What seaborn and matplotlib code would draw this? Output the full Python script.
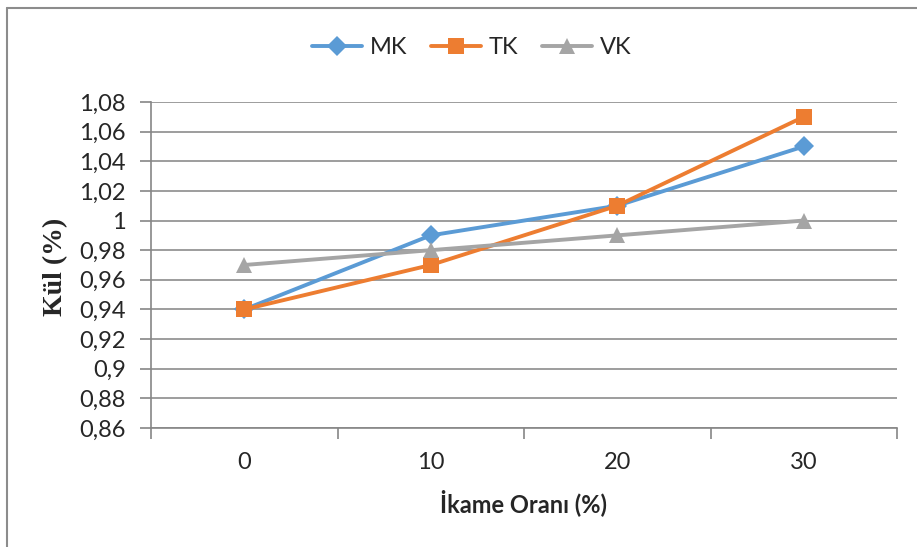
import matplotlib
matplotlib.use("Agg")
import matplotlib.pyplot as plt
from matplotlib.lines import Line2D
import seaborn as sns
import pandas as pd

# Data
oranlar = ["0", "10", "20", "30"]
mk = [0.94, 0.99, 1.01, 1.05]
tk = [0.94, 0.97, 1.01, 1.07]
vk = [0.97, 0.98, 0.99, 1.00]
seriler = ["MK", "TK", "VK"]
yticks = [0.86, 0.88, 0.90, 0.92, 0.94, 0.96, 0.98, 1.00, 1.02, 1.04, 1.06, 1.08]

renkler = {"MK": "#5B9BD5", "TK": "#ED7D31", "VK": "#A5A5A5"}
isaretler = {"MK": "D", "TK": "s", "VK": "^"}
boyutlar = {"MK": 10, "TK": 11, "VK": 11}

df = pd.DataFrame({
    "oran": oranlar * 3,
    "kul": mk + tk + vk,
    "seri": [s for s in seriler for _ in oranlar],
})

sns.set_theme(style="white")
plt.rcParams["font.family"] = ["Lato", "DejaVu Sans"]

fig = plt.figure(figsize=(9.17, 5.47), dpi=100)
ax = fig.add_axes([151 / 917, 1 - 428 / 547, (897 - 151) / 917, (428 - 102) / 547])

sns.pointplot(
    data=df, x="oran", y="kul", hue="seri", order=oranlar, hue_order=seriler,
    palette=renkler, markers=[isaretler[s] for s in seriler],
    linestyles="-", ax=ax, legend=False, errorbar=None,
    markersize=9, linewidth=2.8,
)
for line, s in zip(ax.lines, seriler):
    line.set_markersize(boyutlar[s])
    line.set_markeredgewidth(0)
    line.set_solid_capstyle("round")

ax.set_xlim(-0.5, 3.5)
ax.set_ylim(0.86, 1.08)
ax.set_yticks(yticks)
ax.set_yticklabels([("%g" % v).replace(".", ",") for v in yticks])

# Category boundaries carry the tick marks; labels sit centered
ax.set_xticks([-0.5, 0.5, 1.5, 2.5, 3.5], minor=False)
ax.set_xticklabels([])
ax.set_xticks([0, 1, 2, 3], minor=True)
ax.set_xticklabels(oranlar, minor=True)
ax.tick_params(axis="x", which="major", direction="out", length=8, width=1.2,
               color="#868686", bottom=True)
ax.tick_params(axis="x", which="minor", length=0, pad=17, labelsize=17)
ax.tick_params(axis="y", direction="out", length=8, width=1.2, color="#868686",
               left=True, labelsize=17, pad=10)

ax.grid(axis="y", color="#8C8C8C", linewidth=1.2)
ax.grid(axis="x", visible=False)
ax.set_axisbelow(True)
for side in ["top", "right"]:
    ax.spines[side].set_visible(False)
for side in ["left", "bottom"]:
    ax.spines[side].set_color("#868686")
    ax.spines[side].set_linewidth(1.2)

ax.set_xlabel("İkame Oranı (%)", fontsize=17, fontweight="bold")
ax.xaxis.set_label_coords(0.5, (428 - 503) / 326, transform=ax.transAxes)
ax.xaxis.label.set_va("center")
ax.set_ylabel("Kül (%)", fontsize=20, fontweight="bold",
              family=["Liberation Serif", "DejaVu Serif"])
ax.yaxis.set_label_coords((56 - 151) / 746, (428 - 267) / 326, transform=ax.transAxes)
ax.yaxis.label.set_va("center")

handles = [
    Line2D([], [], color=renkler[s], marker=isaretler[s], linewidth=2.8,
           markersize=boyutlar[s], markeredgewidth=0)
    for s in seriler
]
fig.legend(handles, seriler, loc="center", bbox_to_anchor=(472 / 917, 1 - 48 / 547),
           ncol=3, frameon=False, fontsize=17, handlelength=2.1,
           columnspacing=1.0, handletextpad=0.35)

# Chart frame edges
fig.add_artist(Line2D([7 / 917, 7 / 917], [0, 1 - 8 / 547], transform=fig.transFigure,
                      color="#8C8C8C", linewidth=1.5))
fig.add_artist(Line2D([7 / 917, 1], [1 - 8 / 547, 1 - 8 / 547], transform=fig.transFigure,
                      color="#8C8C8C", linewidth=1.5))

fig.savefig("out.png", dpi=100)
